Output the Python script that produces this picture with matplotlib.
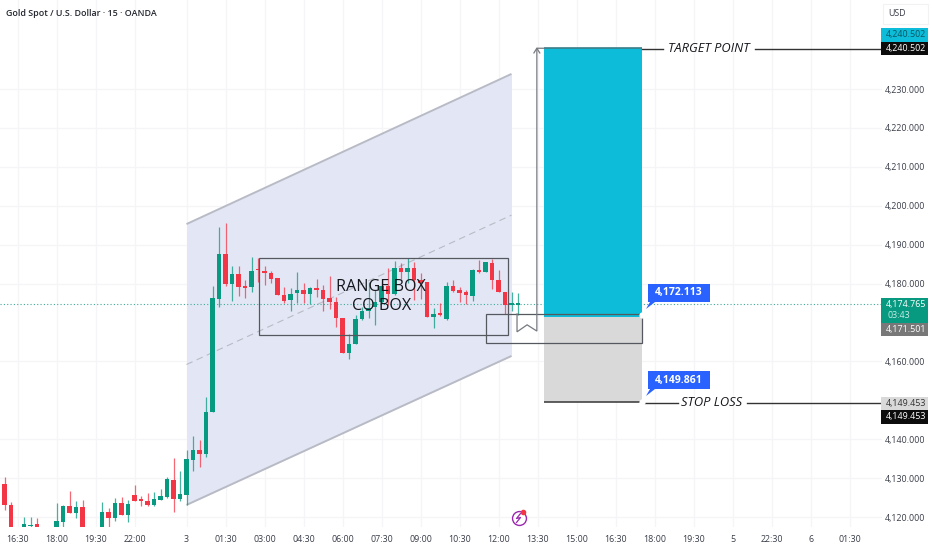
import matplotlib
matplotlib.use("Agg")
import matplotlib.pyplot as plt
from matplotlib.patches import Rectangle, Polygon
from matplotlib.transforms import Affine2D

W, H = 932, 550
FONT = ["Open Sans", "DejaVu Sans"]
plt.rcParams["font.family"] = FONT

idx = [-29,-28,-27,-25,-24,-23,-20,-19,-18,-17,-16,-13,-12,-11,-10,-9,-8,-7,-6,-5,-4,-3,-2,-1,
       0,1,2,3,4,5,6,7,8,9,10,11,12,13,14,15,16,17,18,19,20,21,22,23,24,25,26,27,28,29,30,31,32,
       33,34,35,36,37,38,39,40,41,42,43,44,45,46,47,48,49,50,51]
opens = [4125.2,4128.5,4123.1,4116,4117.7,4118.1,4116,4118.7,4122.9,4120.9,4122.6,4116,4121.3,4119.8,4123.6,4120.5,4125.7,4124.6,4124.1,4123.1,4124.4,4125.2,4129.5,4124.6,
         4125.7,4134.7,4137.2,4136.2,4147,4176.1,4187.5,4179.8,4182.5,4179.4,4179,4183.6,4183.2,4182.6,4181.4,4177.1,4175.8,4177.5,4178.3,4177.2,4178.9,4178.3,4176.2,4175.2,4171.1,4162.1,4164.6,4171,4173,4174.1,4175.3,4179.4,4177.4,
         4184,4183,4184,4180.8,4180.3,4171.5,4172.2,4171,4179.5,4178.4,4177.8,4176.8,4183.4,4182.9,4185.3,4180.9,4177.9,4174.6,4174.6]
highs = [4129.5,4130.2,4123.9,4120.1,4119.9,4119.7,4123.5,4123.1,4126.8,4124.1,4124.4,4123.9,4122.2,4125,4125.1,4124.4,4128.2,4125.4,4126.1,4126.4,4127.1,4130.4,4135.1,4131.8,
         4137.1,4140.9,4139.8,4150.9,4179.4,4194.6,4195.5,4184.4,4184.5,4180.9,4186.8,4186.5,4184.5,4183.3,4181.4,4179.2,4178.8,4182.9,4180.1,4179,4181.1,4179.6,4182,4176.6,4171.1,4167,4171.9,4174.1,4180.5,4178.4,4180.1,4183.9,4185.9,
         4185.4,4186.7,4185.6,4182.6,4180.3,4173.6,4174.9,4180.5,4180.8,4179,4178.4,4183.7,4186.1,4185.6,4186.2,4183.5,4177.9,4177.8,4177.5]
lows = [4125,4121.8,4116,4116,4116,4116,4116,4116,4120.9,4119.8,4116,4116,4116,4119.1,4120.5,4118.8,4124.2,4122.7,4122.7,4122.8,4124.4,4124.8,4121.4,4124.2,
        4123.1,4131.7,4132.9,4135.5,4147,4174.1,4179.4,4175.5,4176.9,4176.4,4177.9,4180.5,4179.6,4180.1,4177.1,4174.9,4173,4174.9,4174.9,4174.8,4176.5,4173,4173.4,4168.9,4162.1,4160.5,4164.6,4170.6,4171.1,4169.4,4174.9,4174.5,4177.1,
        4181.1,4180.1,4175.8,4176,4171.3,4168.7,4171.7,4170.6,4177.9,4175.3,4174.8,4175.5,4182.6,4182.9,4178.5,4177.8,4172.2,4173,4171.9]
closes = [4128.5,4123.1,4116,4118.1,4118,4116,4118.9,4122.9,4120.9,4122.6,4116,4121.3,4119.7,4123.6,4120.5,4123.3,4124.2,4124.1,4123.1,4124.6,4125.4,4129.8,4124.6,4126,
          4135,4137.2,4136.2,4147,4176.2,4187.5,4179.8,4182.5,4179.1,4178.8,4183.2,4183.4,4182.6,4181.3,4177.1,4175.6,4177.4,4178.3,4177.2,4178.9,4178.3,4176,4175.2,4171.1,4162.1,4164.6,4171,4173,4173.6,4175.3,4179.4,4177.4,4184,
          4183,4184,4180.8,4180.2,4171.5,4172.2,4172,4179.5,4178.2,4177.6,4177,4183.5,4182.9,4185.5,4180.9,4177.8,4174.6,4174.8,4174.765]

xtick_pos = [-26,-20,-14,-8,0,6,12,18,24,30,36,42,48,54,60,66,72,78,84,90,96,102]
xtick_lbl = ["16:30","18:00","19:30","22:00","3","01:30","03:00","04:30","06:00","07:30","09:00","10:30",
             "12:00","13:30","15:00","16:30","18:00","19:30","5","22:30","6","01:30"]
grid_prices = [4120,4130,4140,4150,4160,4170,4180,4190,4200,4210,4220,4230,4240]
label_prices = [4120,4130,4140,4160,4180,4190,4200,4210,4220,4230]

last_price = 4174.765
target = 4240.502
entry = 4171.501
stop = 4149.453
channel_x = [0, 50]
channel_top = [4195.3, 4233.9]
channel_mid = [4159.2, 4197.6]
channel_bot = [4123.1, 4161.4]
range_box = (11.1, 49.5, 4166.7, 4186.7)
co_box = (46.1, 70, 4164.7, 4172.2)
pos_x = (55, 70)
arrow_x = [50.85, 50.85, 52.4, 53.9, 53.9, 55]
arrow_y = [4172.2, 4167.6, 4169.4, 4167.8, target, target]

GREEN, RED = "#089981", "#f23645"
PX = Affine2D().scale(1, -1).translate(0, H)
TICK_FS = 6.4

fig = plt.figure(figsize=(W/100, H/100), dpi=100, facecolor="white")
bottom_px = 527
ax = fig.add_axes([0, (H-bottom_px)/H, 882/W, bottom_px/H])
ax2 = fig.add_axes([882/W, (H-bottom_px)/H, 50/W, bottom_px/H], sharey=ax)
ax.set_xlim(-186.5/6.5, 695.5/6.5)
ax.set_ylim(4120-10/3.89, 4120+517/3.89)
ax2.set_xlim(0, 1)

for s in list(ax.spines.values()) + list(ax2.spines.values()):
    s.set_visible(False)
ax.set_xticks(xtick_pos, xtick_lbl)
ax.tick_params(axis="x", length=0, pad=6, labelsize=TICK_FS, labelcolor="#3a3e49")
ax.set_yticks(grid_prices)
ax.tick_params(axis="y", length=0, labelleft=False)
ax.grid(True, color="#f5f5f7", lw=1)
ax.set_axisbelow(True)

ax2.set_xticks([])
ax2.set_yticks(label_prices, [f"{p:,.3f}" for p in label_prices])
ax2.tick_params(axis="y", length=0, pad=-31, labelsize=TICK_FS, labelcolor="#3a3e49", labelleft=True, labelright=False)
ax2.patch.set_visible(False)

# channel
ax.fill_between(channel_x, channel_bot, channel_top, color="#e3e7f5", lw=0, zorder=1)
ax.plot(channel_x, channel_top, color="#b8bbc5", lw=1.4, zorder=2, solid_capstyle="butt")
ax.plot(channel_x, channel_bot, color="#b8bbc5", lw=1.4, zorder=2, solid_capstyle="butt")
ax.plot(channel_x, channel_mid, color="#b8bbc5", lw=0.8, ls=(0, (6, 4)), zorder=2)

# current price line
ax.axhline(last_price, color="#3fa99a", lw=0.8, ls=(0, (1, 2)), zorder=2)

# candles
for i, o, h, l, c in zip(idx, opens, highs, lows, closes):
    col = GREEN if c >= o else RED
    ax.plot([i, i], [l, h], color=col, lw=0.9, alpha=0.75, zorder=3, solid_capstyle="butt")
    ax.add_patch(Rectangle((i-0.38, min(o, c)), 0.76, max(abs(c-o), 0.35), fc=col, ec="none", zorder=4))

# position tool
ax.add_patch(Rectangle((pos_x[0], entry), pos_x[1]-pos_x[0], target-entry, fc="#0dbcd8", ec="none", zorder=3))
ax.add_patch(Rectangle((pos_x[0], stop), pos_x[1]-pos_x[0], entry-stop, fc="#d9d9d9", ec="none", zorder=3))
ax.plot(pos_x, [target, target], color="#3c7d88", lw=1.2, zorder=5, solid_capstyle="butt")
ax.plot(pos_x, [stop, stop], color="#444444", lw=1.2, zorder=5, solid_capstyle="butt")

# boxes
for x0, x1, y0, y1 in (range_box, co_box):
    ax.add_patch(Rectangle((x0, y0), x1-x0, y1-y0, fc="none", ec="#55585f", lw=0.9, zorder=6))

# arrow
ax.plot(arrow_x, arrow_y, color="#777a80", lw=0.9, zorder=6, solid_joinstyle="miter")
ax.plot([53.45, 53.9, 54.35], [target-1.2, target, target-1.2], color="#777a80", lw=0.9, zorder=6)

# box captions
ax.text(381, 287, "RANGE BOX", transform=PX, ha="center", va="center", fontsize=11.6, color="#15171c", zorder=8)
ax.text(381.5, 306, "CO BOX", transform=PX, ha="center", va="center", fontsize=11.6, color="#15171c", zorder=8)

# target / stop labels
for yp, txt, xt, x1, x2 in ((48.5, "TARGET POINT", 708.5, 663, 755), (403, "STOP LOSS", 712, 678, 747)):
    ax2.plot([641.5, x1], [yp, yp], transform=PX, color="#333333", lw=1, clip_on=False, zorder=6)
    ax2.plot([x2, 882], [yp, yp], transform=PX, color="#333333", lw=1, clip_on=False, zorder=6)
    ax2.text(xt, yp, txt, transform=PX, ha="center", va="center", fontsize=9.3, style="italic",
             color="#15171c", clip_on=False)

# blue flags
for top, txt, tip in ((284, "4,172.113", 309), (371, "4,149.861", 396)):
    ax2.add_patch(Polygon([(648, top), (710, top), (710, top+18), (655, top+18), (646, tip), (650, top+18), (648, top+18)],
                          closed=True, transform=PX, fc="#2962ff", ec="none", clip_on=False, zorder=7))
    ax2.text(679, top+9, txt, transform=PX, ha="center", va="center", fontsize=7.5, fontweight="bold",
             color="white", clip_on=False, zorder=8)
    ax2.plot([641.5], [tip+6], transform=PX, marker="o", ms=3.5, color="white", clip_on=False, zorder=7)

# price tags
tags = [(28, 14, "#0dbcd8", "4,240.502", "#0b5563"),
        (42, 13, "#0c0c0c", "4,240.502", "white"),
        (323, 13, "#787878", "4,171.501", "white"),
        (397, 13, "#d9d9d9", "4,149.453", "#333333"),
        (410, 14, "#0c0c0c", "4,149.453", "white")]
for top, ht, col, txt, tc in tags:
    ax2.add_patch(Rectangle((881, top), 47, ht, transform=PX, fc=col, ec="none", clip_on=False, zorder=7))
    ax2.text(906, top+ht/2, txt, transform=PX, ha="center", va="center", fontsize=TICK_FS, color=tc, clip_on=False, zorder=8)
ax2.add_patch(Rectangle((881, 298), 47, 25, transform=PX, fc=GREEN, ec="none", clip_on=False, zorder=7))
ax2.text(906, 304.5, f"{last_price:,.3f}", transform=PX, ha="center", va="center", fontsize=TICK_FS, color="white", clip_on=False, zorder=8)
ax2.text(887, 315.5, "03:43", transform=PX, ha="left", va="center", fontsize=TICK_FS, color="#c9ece6", clip_on=False, zorder=8)

# USD
ax2.add_patch(Rectangle((883, 4), 45, 20, transform=PX, fc="white", ec="#f2f2f2", lw=0.8, clip_on=False, zorder=7))
ax2.text(897, 14, "USD", transform=PX, ha="center", va="center", fontsize=TICK_FS, color="#3a3e49", clip_on=False, zorder=8)

# title
ax.text(6, 13.5, "Gold Spot / U.S. Dollar · 15 · OANDA", transform=PX, ha="left", va="center",
        fontsize=6.4, fontweight="semibold", color="#23262e", zorder=8)

# energy icon
ax.plot([518.5], [518], transform=PX, marker="o", ms=10, mfc="white", mec="#9c27b0", mew=1, zorder=8, clip_on=False)
ax.plot([520.5, 516.5, 520.5, 516.5], [513.5, 518.5, 517.5, 522.5], transform=PX, color="#9c27b0", lw=0.9, zorder=9, clip_on=False)
ax.plot([523], [512], transform=PX, marker="o", ms=3, color="#f23645", zorder=9, clip_on=False)

fig.savefig("out.png", dpi=100, facecolor="white")
